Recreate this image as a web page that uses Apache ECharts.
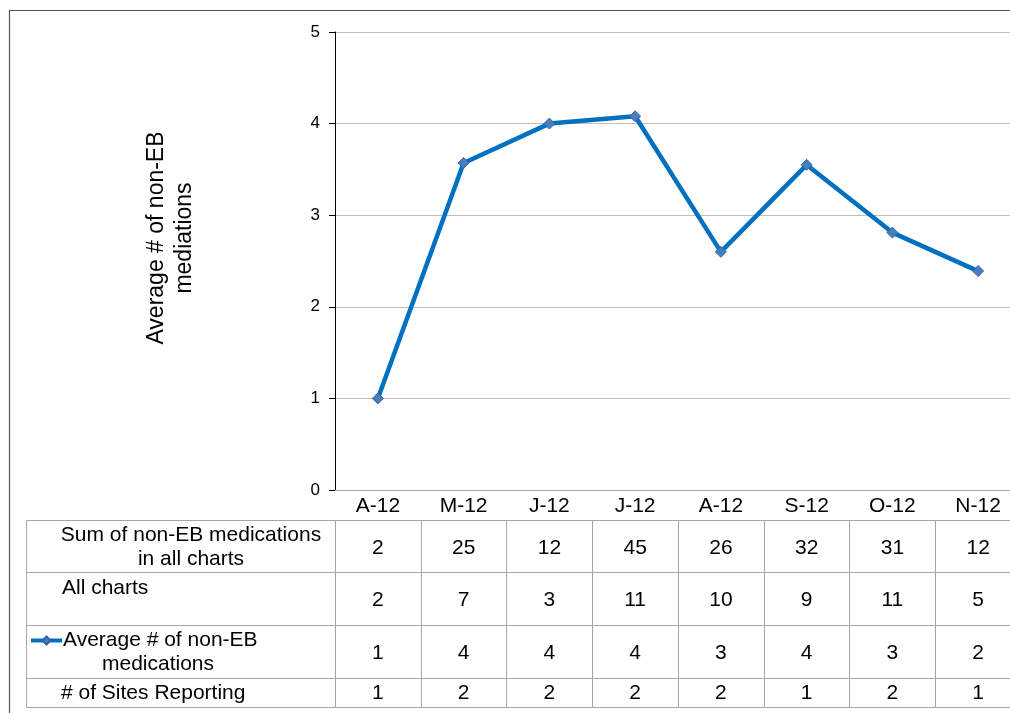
<!DOCTYPE html>
<html>
<head>
<meta charset="utf-8">
<script src="https://cdn.jsdelivr.net/npm/echarts@6/dist/echarts.min.js"></script>
<style>
html,body{margin:0;padding:0;background:#fff;}
#chart{width:1010px;height:713px;}
</style>
</head>
<body>
<div id="chart"></div>
<script>
const categories = ['A-12','M-12','J-12','J-12','A-12','S-12','O-12','N-12'];
const averageValues = [1, 3.57, 4.0, 4.08, 2.6, 3.55, 2.81, 2.39];
const sumRow = [2, 25, 12, 45, 26, 32, 31, 12];
const chartsRow = [2, 7, 3, 11, 10, 9, 11, 5];
const averageRow = [1, 4, 4, 4, 3, 4, 3, 2];
const sitesRow = [1, 2, 2, 2, 2, 1, 2, 1];
const yTicks = [0, 1, 2, 3, 4, 5];

const FONT = '"Liberation Sans", Arial, sans-serif';
const GRIDC = '#a6a6a6';
const TXT = '#000';
const FS = 21;

const chart = echarts.init(document.getElementById('chart'), null, {renderer: 'canvas'});

function rowAxis(offset, data, tickLen, margin, showLine) {
  return {
    type: 'category', gridIndex: 0, position: 'bottom', offset: offset,
    data: categories, boundaryGap: true,
    axisLine: {show: showLine !== false, onZero: false, lineStyle: {color: GRIDC, width: 1}},
    axisTick: {show: tickLen > 0, length: tickLen, interval: 0, lineStyle: {color: GRIDC, width: 1}},
    axisLabel: {
      show: !!data, interval: 0, margin: margin, verticalAlign: 'middle',
      fontFamily: FONT, fontSize: FS, color: TXT,
      formatter: function (v, i) { return data ? String(data[i]) : ''; }
    },
    splitLine: {show: false}
  };
}

const option = {
  animation: false,
  backgroundColor: '#fff',
  textStyle: {fontFamily: FONT},
  grid: [{left: 335, top: 32, width: 686, height: 458, containLabel: false, outerBoundsMode: 'none'}],
  xAxis: [
    {
      type: 'category', gridIndex: 0, position: 'bottom', data: categories, boundaryGap: true,
      axisLine: {onZero: false, lineStyle: {color: GRIDC, width: 1}},
      axisTick: {length: 30, interval: 0, lineStyle: {color: GRIDC, width: 1}},
      axisLabel: {interval: 0, margin: 16, verticalAlign: 'middle', fontFamily: FONT, fontSize: FS, color: TXT},
      splitLine: {show: false}
    },
    rowAxis(30, sumRow, 52, 28),
    rowAxis(82, chartsRow, 53, 28),
    rowAxis(135, averageRow, 53, 28),
    rowAxis(188, sitesRow, 29, 15),
    rowAxis(217, null, 0, 0)
  ],
  yAxis: [{
    type: 'value', gridIndex: 0, min: 0, max: 5, interval: 1,
    axisLine: {show: true, lineStyle: {color: '#000', width: 1}},
    axisTick: {show: true, length: 6, lineStyle: {color: '#000'}},
    axisLabel: {margin: 15, fontFamily: FONT, fontSize: 17, color: TXT,
      formatter: function (v) { return yTicks.indexOf(v) >= 0 ? String(v) : ''; }},
    splitLine: {show: true, lineStyle: {color: '#bfbfbf', width: 1}}
  }],
  legend: {
    show: true, left: 29, top: 630, padding: 0, itemWidth: 31, itemHeight: 10, itemGap: 0,
    lineStyle: {width: 4, color: '#0070C0'},
    textStyle: {fontFamily: FONT, fontSize: FS, color: TXT, padding: [0, 0, 0, -4]},
    formatter: function () { return 'Average # of non-EB'; },
    data: ['Average # of non-EB medications']
  },
  series: [{
    name: 'Average # of non-EB medications',
    type: 'line', xAxisIndex: 0, yAxisIndex: 0,
    data: averageValues,
    lineStyle: {color: '#0070C0', width: 4.5},
    itemStyle: {color: '#4A7EBB', borderColor: '#2F67AE', borderWidth: 1},
    symbol: 'diamond', symbolSize: 11, showSymbol: true
  }],
  graphic: [
    {type: 'rect', shape: {x: 9.5, y: 10.5, width: 1200, height: 900}, style: {fill: null, stroke: '#555', lineWidth: 1.2}, silent: true, z: -1},
    {type: 'text', x: 171, y: 238, rotation: Math.PI / 2,
      style: {text: 'Average # of non-EB\nmediations', font: '23px ' + FONT, fill: TXT, align: 'center', verticalAlign: 'middle', lineHeight: 28}},
    // label column lines
    {type: 'line', shape: {x1: 26.5, y1: 520.5, x2: 335, y2: 520.5}, style: {stroke: GRIDC, lineWidth: 1}},
    {type: 'line', shape: {x1: 26.5, y1: 572.5, x2: 335, y2: 572.5}, style: {stroke: GRIDC, lineWidth: 1}},
    {type: 'line', shape: {x1: 26.5, y1: 625.5, x2: 335, y2: 625.5}, style: {stroke: GRIDC, lineWidth: 1}},
    {type: 'line', shape: {x1: 26.5, y1: 678.5, x2: 335, y2: 678.5}, style: {stroke: GRIDC, lineWidth: 1}},
    {type: 'line', shape: {x1: 26.5, y1: 707.5, x2: 335, y2: 707.5}, style: {stroke: GRIDC, lineWidth: 1}},
    {type: 'line', shape: {x1: 26.5, y1: 520.5, x2: 26.5, y2: 707.5}, style: {stroke: GRIDC, lineWidth: 1}},
    // label column text
    {type: 'text', x: 191, y: 547, style: {text: 'Sum of non-EB medications\nin all charts', font: FS + 'px ' + FONT, fill: TXT, align: 'center', verticalAlign: 'middle', lineHeight: 24}},
    {type: 'text', x: 62, y: 588, style: {text: 'All charts', font: FS + 'px ' + FONT, fill: TXT, align: 'left', verticalAlign: 'middle'}},
    {type: 'text', x: 158, y: 664, style: {text: 'medications', font: FS + 'px ' + FONT, fill: TXT, align: 'center', verticalAlign: 'middle'}},
    {type: 'text', x: 61, y: 693, style: {text: '# of Sites Reporting', font: FS + 'px ' + FONT, fill: TXT, align: 'left', verticalAlign: 'middle'}}
  ]
};
chart.setOption(option);
</script>
</body>
</html>
